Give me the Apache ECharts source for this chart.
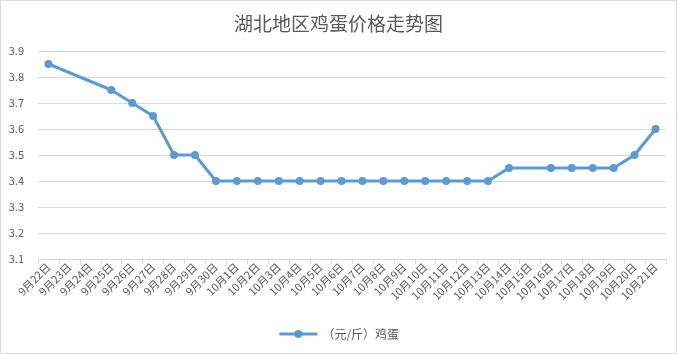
<!DOCTYPE html>
<html>
<head>
<meta charset="utf-8">
<script src="https://cdn.jsdelivr.net/npm/echarts@6/dist/echarts.min.js"></script>
<style>
    html, body { margin: 0; padding: 0; background: #fff; }
    #chart { width: 677px; height: 354px; box-sizing: border-box; border: 1px solid #d9d9d9; }
</style>
</head>
<body>
<div id="chart"></div>
<script>
// Dates on the x axis
const dates = [
    '9月22日', '9月23日', '9月24日', '9月25日', '9月26日', '9月27日', '9月28日', '9月29日', '9月30日',
    '10月1日', '10月2日', '10月3日', '10月4日', '10月5日', '10月6日', '10月7日', '10月8日', '10月9日',
    '10月10日', '10月11日', '10月12日', '10月13日', '10月14日', '10月15日', '10月16日', '10月17日',
    '10月18日', '10月19日', '10月20日', '10月21日'
];

// Egg price (yuan/jin); null where no quote was recorded
const eggPrices = [
    3.85, null, null, 3.75, 3.7, 3.65, 3.5, 3.5, 3.4,
    3.4, 3.4, 3.4, 3.4, 3.4, 3.4, 3.4, 3.4, 3.4,
    3.4, 3.4, 3.4, 3.4, 3.45, null, 3.45, 3.45,
    3.45, 3.45, 3.5, 3.6
];

const seriesName = '（元/斤）鸡蛋';
const fontFamily = '"Microsoft YaHei", "Noto Sans CJK SC", sans-serif';

const chart = echarts.init(document.getElementById('chart'));

chart.setOption({
    animation: false,
    title: {
        text: '湖北地区鸡蛋价格走势图',
        left: 'center',
        top: 8,
        textStyle: { color: '#595959', fontSize: 19, fontWeight: 'normal', fontFamily: fontFamily }
    },
    legend: {
        data: [seriesName],
        bottom: 8,
        left: 'center',
        itemWidth: 38,
        itemHeight: 10,
        lineStyle: { width: 3 },
        textStyle: { color: '#595959', fontSize: 12, fontFamily: fontFamily }
    },
    grid: { left: 37, right: 10, top: 50, bottom: 94 },
    xAxis: {
        type: 'category',
        data: dates,
        boundaryGap: true,
        axisLine: { lineStyle: { color: '#d9d9d9' } },
        axisTick: { show: true, length: 5, lineStyle: { color: '#d9d9d9' } },
        axisLabel: { rotate: 45, interval: 0, color: '#595959', fontSize: 11, margin: 6, fontFamily: fontFamily }
    },
    yAxis: {
        type: 'value',
        min: 3.1,
        max: 3.9,
        interval: 0.1,
        axisLine: { show: false },
        axisTick: { show: false },
        axisLabel: {
            color: '#595959', fontSize: 11, margin: 14, fontFamily: fontFamily,
            formatter: v => v.toFixed(1)
        },
        splitLine: { lineStyle: { color: '#d9d9d9' } }
    },
    series: [{
        name: seriesName,
        type: 'line',
        data: eggPrices,
        connectNulls: true,
        symbol: 'circle',
        symbolSize: 8,
        lineStyle: { color: '#5b9bd5', width: 3 },
        itemStyle: { color: '#5b9bd5' }
    }]
});
</script>
</body>
</html>
